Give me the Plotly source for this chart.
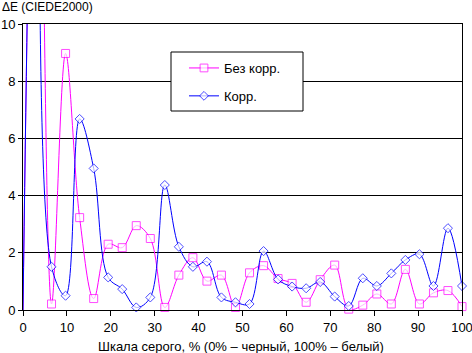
import plotly.graph_objects as go

gray_pct = [0, 3.2, 6.5, 9.7, 12.9, 16.1, 19.4, 22.6, 25.8, 29.0, 32.3, 35.5, 38.7, 41.9,
            45.2, 48.4, 51.6, 54.8, 58.1, 61.3, 64.5, 67.7, 71.0, 74.2, 77.4, 80.6, 83.9,
            87.1, 90.3, 93.5, 96.8, 100]
de_nocorr = [0, 24, 0.21, 8.97, 3.23, 0.4, 2.3, 2.18, 2.95, 2.5, 0.09, 1.22, 1.83, 1.01,
             1.22, 0.09, 1.3, 1.55, 1.1, 0.93, 0.27, 1.06, 1.57, 0.03, 0.17, 0.56, 0.21,
             1.42, 0.21, 0.6, 0.68, 0.12]
de_corr = [0, 24, 1.51, 0.5, 6.68, 4.95, 1.14, 0.73, 0.09, 0.44, 4.37, 2.21, 1.51, 1.69,
           0.44, 0.27, 0.21, 2.06, 1.07, 0.82, 0.76, 0.98, 0.47, 0.14, 1.11, 0.84, 1.28,
           1.75, 1.95, 0.84, 2.86, 0.84]
series_names = ["Без корр.", "Корр."]
y_title = "ΔE (CIEDE2000)"
x_title = "Шкала серого, % (0% – черный, 100% – белый)"

FONT = "Liberation Sans, Arial, sans-serif"
W, H = 472, 353
L, R, T, B = 23, 10, 24, 43
pw, ph = W - L - R, H - T - B

sizes_sq = [0] + [8] * (len(gray_pct) - 1)
sizes_di = [0] + [7] * (len(gray_pct) - 1)

fig = go.Figure()
fig.add_trace(go.Scatter(
    x=gray_pct, y=de_nocorr, name=series_names[0], mode="lines+markers",
    line=dict(color="#FF00FF", width=1, shape="spline", smoothing=1),
    marker=dict(symbol="square", size=sizes_sq, color="white",
                line=dict(color="#FF00FF", width=1)),
    cliponaxis=False, legendgroup="a"))
fig.add_trace(go.Scatter(
    x=gray_pct, y=de_corr, name=series_names[1], mode="lines+markers",
    line=dict(color="#0000FF", width=1, shape="spline", smoothing=1),
    marker=dict(symbol="diamond", size=sizes_di, color="white",
                line=dict(color="#0000FF", width=1)),
    cliponaxis=False, legendgroup="b"))

def px_x(p):
    return (p - L) / pw

def px_y(p):
    return (H - B - p) / ph

fig.add_shape(type="rect", xref="paper", yref="paper",
              x0=px_x(171), x1=px_x(303), y0=px_y(111), y1=px_y(52),
              line=dict(color="black", width=1), fillcolor="white", layer="above")

fig.update_layout(
    width=W, height=H, margin=dict(l=L, r=R, t=T, b=B, autoexpand=False),
    paper_bgcolor="white", plot_bgcolor="white",
    font=dict(family=FONT, size=13, color="black"),
    showlegend=True,
    legend=dict(x=px_x(184), y=px_y(53), xanchor="left", yanchor="top",
                bgcolor="rgba(0,0,0,0)", borderwidth=0, tracegroupgap=8,
                traceorder="grouped", font=dict(family=FONT, size=13)),
    xaxis=dict(range=[0, 100], tickmode="linear", tick0=0, dtick=10,
               showgrid=False, zeroline=False, showline=True, linecolor="black",
               linewidth=1, mirror=True, ticks="outside", ticklen=5, automargin=False,
               ticklabeloverflow="allow",
               tickcolor="black", tickfont=dict(family=FONT, size=13)),
    yaxis=dict(range=[0, 10], tickmode="linear", tick0=0, dtick=2,
               showgrid=True, gridcolor="black", gridwidth=1, zeroline=False,
               showline=True, linecolor="black", linewidth=1, mirror=True,
               ticks="outside", ticklen=4, tickcolor="black", automargin=False,
               ticklabelstandoff=0, ticklabeloverflow="allow",
               tickfont=dict(family=FONT, size=13)),
    annotations=[
        dict(text=y_title, xref="paper", yref="paper", x=px_x(0), y=px_y(7),
             xanchor="left", yanchor="middle", showarrow=False,
             font=dict(family=FONT, size=12)),
        dict(text=x_title, xref="paper", yref="paper", x=px_x(241), y=px_y(346),
             xanchor="center", yanchor="middle", showarrow=False,
             font=dict(family=FONT, size=13)),
    ],
)

fig.write_html("out.html")
